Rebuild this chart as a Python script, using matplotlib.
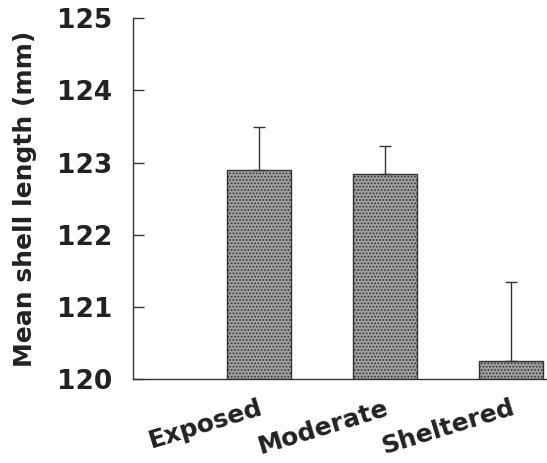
import matplotlib
matplotlib.use("Agg")
import matplotlib.pyplot as plt

sites = ["Exposed", "Moderate", "Sheltered"]
mean_length = [122.89, 122.84, 120.25]
upper_err = [0.60, 0.39, 1.09]

plt.rcParams['font.family'] = ['DejaVu Sans']
plt.rcParams['hatch.color'] = '#3a3a3a'
plt.rcParams['hatch.linewidth'] = 0.8

fig = plt.figure(figsize=(5.47, 4.63), dpi=100)
ax = fig.add_axes([0.243, 0.181, 0.755, 0.78])

pos = range(1, len(sites) + 1)
ax.bar(pos, [m - 120 for m in mean_length], bottom=120, width=0.51,
       color='#a0a0a0', edgecolor='#333333', linewidth=1.0, hatch='.....')
ax.errorbar(pos, mean_length, yerr=[[0] * len(sites), upper_err], fmt='none',
            ecolor='#333333', elinewidth=1.0, capsize=4, capthick=1.0)

ax.set_ylim(120, 125)
ax.set_xlim(0, 3.28)
ax.set_yticks([120, 121, 122, 123, 124, 125])
ax.spines['top'].set_visible(False)
ax.spines['right'].set_visible(False)
for s in ['left', 'bottom']:
    ax.spines[s].set_color('#333333')
    ax.spines[s].set_linewidth(1.0)
ax.tick_params(axis='y', direction='in', length=8, width=1, color='#333333',
               pad=15, labelsize=19, labelcolor='#222222')
for lab in ax.get_yticklabels():
    lab.set_fontweight('heavy')
ax.set_xticks(list(pos))
ax.set_xticklabels(sites, rotation=17, ha='right', va='top', rotation_mode='anchor',
                   fontsize=18, fontweight='heavy', color='#222222')
ax.tick_params(axis='x', length=0, pad=12)
ax.set_ylabel("Mean shell length (mm)", fontsize=18, fontweight='heavy',
              color='#222222', labelpad=14)

fig.savefig("out.png", dpi=100)
